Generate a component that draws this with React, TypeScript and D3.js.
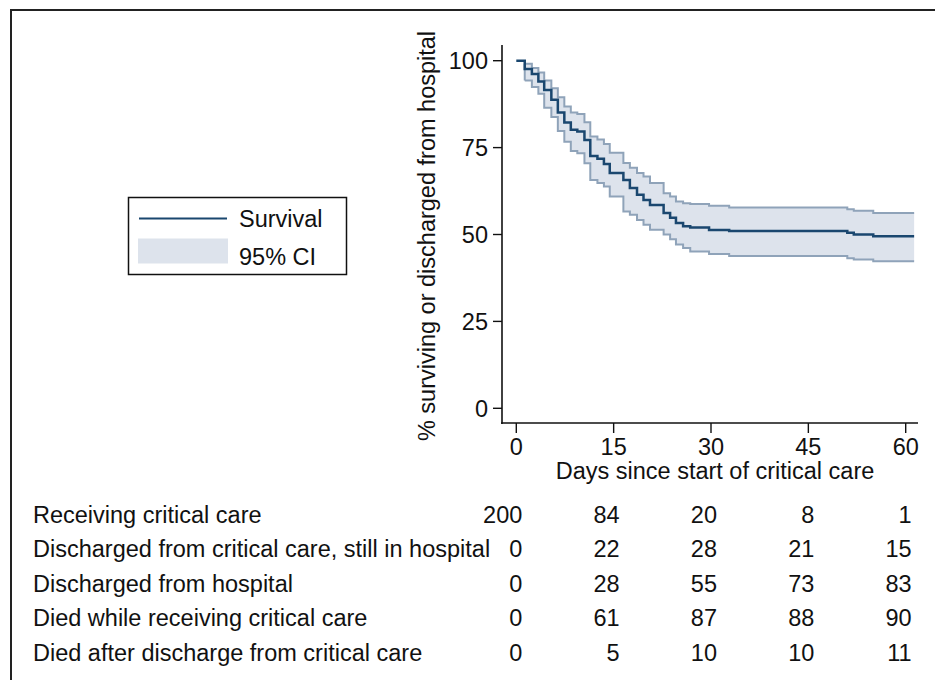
import React from "react";
import * as d3 from "d3";

// Kaplan-Meier step data (days since start of critical care)
const days = [0, 1.3, 2.4, 3.4, 4.3, 5.4, 6.4, 7.4, 8.4, 9.4, 10.5, 11.4, 12.5, 13.5, 14.4, 16.5, 17.5, 18.6, 19.6, 20.6, 22.7, 23.7, 24.6, 25.7, 26.8, 29.7, 32.8, 51.0, 52.0, 55.0, 61.3];
const survival = [100, 97.6, 96.2, 94.0, 91.6, 88.8, 85.1, 82.2, 80.1, 79.6, 77.2, 72.6, 71.8, 70.3, 67.7, 65.7, 63.4, 61.4, 59.9, 58.5, 56.2, 54.8, 53.3, 52.4, 52.0, 51.3, 51.0, 50.5, 50.0, 49.5, 49.5];
const upperCI: (number | null)[] = [null, 99.1, 97.9, 96.6, 94.3, 92.1, 89.5, 86.8, 85.1, 84.7, 82.3, 78.2, 77.3, 76.0, 73.5, 70.6, 69.2, 67.7, 66.7, 64.8, 61.9, 60.9, 59.5, 59.0, 58.8, 58.3, 57.8, 57.3, 56.8, 56.2, 56.2];
const lowerCI: (number | null)[] = [null, 94.3, 92.4, 90.5, 86.5, 83.8, 79.8, 76.7, 74.0, 73.4, 70.5, 65.7, 64.8, 63.8, 60.9, 56.6, 55.7, 54.2, 52.8, 51.4, 50.0, 48.6, 47.1, 46.1, 45.1, 44.4, 43.8, 43.2, 42.8, 42.3, 42.3];

const xTicks = [0, 15, 30, 45, 60];
const yTicks = [0, 25, 50, 75, 100];

const rowLabels = [
  "Receiving critical care",
  "Discharged from critical care, still in hospital",
  "Discharged from hospital",
  "Died while receiving critical care",
  "Died after discharge from critical care",
];
const receiving = [200, 84, 20, 8, 1];
const dischargedCC = [0, 22, 28, 21, 15];
const dischargedHosp = [0, 28, 55, 73, 83];
const diedCC = [0, 61, 87, 88, 90];
const diedAfter = [0, 5, 10, 10, 11];
const tableRows = [receiving, dischargedCC, dischargedHosp, diedCC, diedAfter];

const FONT = "'Liberation Sans', Arial, Helvetica, sans-serif";
const NAVY = "#1a476f";
const CI_FILL = "#dde3ec";
const CI_LINE = "#8fa3b9";

export default function App() {
  const x = d3.scaleLinear().domain([0, 60]).range([516.3, 905.7]);
  const y = d3.scaleLinear().domain([0, 100]).range([408.3, 60.7]);
  const axisLeft = 502;
  const axisBottom = 423;
  const axisRight = 918;
  const axisTop = 45;
  const fs = 23.5;

  const idx = days.map((_, i) => i);
  const area = d3
    .area<number>()
    .defined((i) => upperCI[i] != null && lowerCI[i] != null)
    .x((i) => x(days[i]))
    .y0((i) => y(lowerCI[i] as number))
    .y1((i) => y(upperCI[i] as number))
    .curve(d3.curveStepAfter);
  const upperLine = d3
    .line<number>()
    .defined((i) => upperCI[i] != null)
    .x((i) => x(days[i]))
    .y((i) => y(upperCI[i] as number))
    .curve(d3.curveStepAfter);
  const lowerLine = d3
    .line<number>()
    .defined((i) => lowerCI[i] != null)
    .x((i) => x(days[i]))
    .y((i) => y(lowerCI[i] as number))
    .curve(d3.curveStepAfter);
  const survLine = d3
    .line<number>()
    .x((i) => x(days[i]))
    .y((i) => y(survival[i]))
    .curve(d3.curveStepAfter);

  const firstCI = idx.find((i) => upperCI[i] != null) as number;

  const rowBase = [522.5, 557, 591.5, 626, 660.5];

  return (
    <svg
      width={935}
      height={680}
      style={{ position: "absolute", left: 0, top: 0, background: "#fff" }}
      fontFamily={FONT}
    >
      <rect x={0} y={0} width={935} height={680} fill="#fff" />
      {/* outer frame (right/bottom edges off-canvas) */}
      <path d="M11,690 L11,10 L945,10" fill="none" stroke="#222" strokeWidth={2} />

      {/* CI band */}
      <path d={area(idx) || ""} fill={CI_FILL} stroke="none" />
      <path d={upperLine(idx) || ""} fill="none" stroke={CI_LINE} strokeWidth={2} />
      <path d={lowerLine(idx) || ""} fill="none" stroke={CI_LINE} strokeWidth={2} />
      <line
        x1={x(days[firstCI])}
        x2={x(days[firstCI])}
        y1={y(upperCI[firstCI] as number)}
        y2={y(lowerCI[firstCI] as number)}
        stroke={CI_LINE}
        strokeWidth={2}
      />
      {/* survival */}
      <path d={survLine(idx) || ""} fill="none" stroke={NAVY} strokeWidth={2.5} />

      {/* axes */}
      <line x1={axisLeft} x2={axisLeft} y1={axisTop} y2={axisBottom + 1} stroke="#111" strokeWidth={1.6} />
      <line x1={axisLeft - 1} x2={axisRight} y1={axisBottom} y2={axisBottom} stroke="#111" strokeWidth={1.6} />
      {yTicks.map((t) => (
        <g key={"y" + t}>
          <line x1={axisLeft - 9} x2={axisLeft} y1={y(t)} y2={y(t)} stroke="#111" strokeWidth={1.4} />
          <text x={488} y={y(t)} dy="0.35em" textAnchor="end" fontSize={fs} fill="#111">
            {t}
          </text>
        </g>
      ))}
      {xTicks.map((t) => (
        <g key={"x" + t}>
          <line x1={x(t)} x2={x(t)} y1={axisBottom} y2={axisBottom + 10} stroke="#111" strokeWidth={1.4} />
          <text x={x(t)} y={454.5} textAnchor="middle" fontSize={fs} fill="#111">
            {t}
          </text>
        </g>
      ))}
      <text x={(x(0) + x(60)) / 2 + 4} y={479} textAnchor="middle" fontSize={fs} fill="#111">
        Days since start of critical care
      </text>
      <text
        transform={`translate(435,236) rotate(-90)`}
        textAnchor="middle"
        fontSize={fs}
        fill="#111"
      >
        % surviving or discharged from hospital
      </text>

      {/* legend */}
      <rect x={128.5} y={197.5} width={218} height={77} fill="#fff" stroke="#111" strokeWidth={1.5} />
      <line x1={139} x2={227} y1={218.5} y2={218.5} stroke={NAVY} strokeWidth={2} />
      <rect x={138} y={238.5} width={90} height={25} fill={CI_FILL} />
      <text x={239} y={227} fontSize={fs} fill="#111">
        Survival
      </text>
      <text x={239} y={264.5} fontSize={fs} fill="#111">
        95% CI
      </text>

      {/* numbers at risk table */}
      {rowLabels.map((lab, r) => (
        <g key={"r" + r}>
          <text x={33} y={rowBase[r]} fontSize={fs} fill="#111">
            {lab}
          </text>
          {tableRows[r].map((v, c) => (
            <text key={c} x={x(xTicks[c]) + 6} y={rowBase[r]} textAnchor="end" fontSize={fs} fill="#111">
              {v}
            </text>
          ))}
        </g>
      ))}
    </svg>
  );
}
